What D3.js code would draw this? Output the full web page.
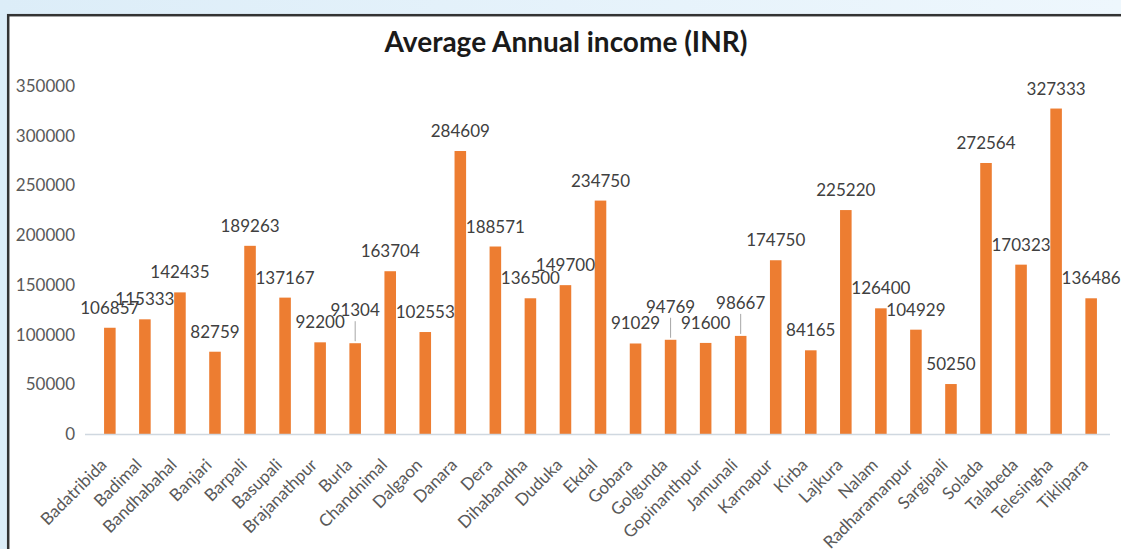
<!DOCTYPE html>
<html>
<head>
<meta charset="utf-8">
<script src="https://cdn.jsdelivr.net/npm/d3@7/dist/d3.min.js"></script>
<style>
  html, body { margin: 0; padding: 0; }
  body { width: 1121px; height: 549px; overflow: hidden; }
</style>
</head>
<body>
<svg id="chart" width="1121" height="549"></svg>
<script>
// Villages and their average annual income (INR)
const villages = ["Badatribida", "Badimal", "Bandhabahal", "Banjari", "Barpali", "Basupali",
  "Brajanathpur", "Burla", "Chandnimal", "Dalgaon", "Danara", "Dera", "Dihabandha", "Duduka",
  "Ekdal", "Gobara", "Golgunda", "Gopinanthpur", "Jamunali", "Karnapur", "Kirba", "Lajkura",
  "Nalam", "Radharamanpur", "Sargipali", "Solada", "Talabeda", "Telesingha", "Tiklipara"];
const income = [106857, 115333, 142435, 82759, 189263, 137167, 92200, 91304, 163704, 102553,
  284609, 188571, 136500, 149700, 234750, 91029, 94769, 91600, 98667, 174750, 84165, 225220,
  126400, 104929, 50250, 272564, 170323, 327333, 136486];
const yTicks = [0, 50000, 100000, 150000, 200000, 250000, 300000, 350000];
// Labels lifted off their bar and joined to it by a leader line
const leaderLabels = ["Burla", "Golgunda", "Jamunali"];

const W = 1121, H = 549;
const svg = d3.select("#chart");
const font = "Lato, 'Open Sans', sans-serif";

// Page backdrop
const defs = svg.append("defs");
const bg = defs.append("linearGradient").attr("id", "bg").attr("x1", 0).attr("x2", 1).attr("y1", 0).attr("y2", 0);
bg.append("stop").attr("offset", 0).attr("stop-color", "#dcedf8");
bg.append("stop").attr("offset", 1).attr("stop-color", "#eef7fd");
svg.append("rect").attr("width", W).attr("height", H).attr("fill", "url(#bg)");

// Chart frame
svg.append("rect")
  .attr("x", 8.2).attr("y", 15.2)
  .attr("width", W + 20).attr("height", H + 20)
  .attr("fill", "#ffffff").attr("stroke", "#333333").attr("stroke-width", 2.5);

// Title
svg.append("text")
  .attr("x", 566).attr("y", 52)
  .attr("text-anchor", "middle")
  .attr("font-family", font).attr("font-weight", "bold").attr("font-size", 28)
  .attr("fill", "#1a1a1a")
  .text("Average Annual income (INR)");

const x = d3.scaleBand().domain(villages).range([92.5, 1108.5]).paddingInner(0.67).paddingOuter(0.33);
const y = d3.scaleLinear().domain([0, 350000]).range([434, 86]);

// Y axis labels (no axis line, no gridlines)
const yAxis = svg.append("g").attr("transform", "translate(75,0)")
  .call(d3.axisLeft(y).tickValues(yTicks).tickSize(0).tickPadding(0).tickFormat(d3.format("d")));
yAxis.select(".domain").remove();
yAxis.selectAll("text")
  .attr("font-family", font).attr("font-size", 17).attr("fill", "#595959");

// Bars
svg.append("g").selectAll("rect")
  .data(villages)
  .join("rect")
  .attr("x", d => x(d))
  .attr("width", x.bandwidth())
  .attr("y", (d, i) => y(income[i]))
  .attr("height", (d, i) => y(0) - y(income[i]))
  .attr("fill", "#ed7d31");

// Category axis
const xAxis = svg.append("g").attr("transform", "translate(0,434)")
  .call(d3.axisBottom(x).tickSize(0).tickPadding(0));
xAxis.select(".domain")
  .attr("d", "M85,0.5H1110")
  .attr("stroke", "#d0d8e0").attr("stroke-width", 1.5);
xAxis.selectAll(".tick text")
  .attr("font-family", font).attr("font-size", 17).attr("fill", "#595959")
  .attr("text-anchor", "end")
  .attr("dy", 0).attr("y", 0)
  .attr("transform", "translate(-2,32) rotate(-45)");

// Value labels
const lift = 13;
const labels = svg.append("g");
villages.forEach((v, i) => {
  const cx = x(v) + x.bandwidth() / 2;
  const top = y(income[i]);
  const lifted = leaderLabels.includes(v);
  const base = top - 14 - (lifted ? lift : 0);
  if (lifted) {
    labels.append("line")
      .attr("x1", cx).attr("x2", cx)
      .attr("y1", base + 5).attr("y2", top - 2)
      .attr("stroke", "#a6a6a6").attr("stroke-width", 1);
  }
  labels.append("text")
    .attr("x", cx).attr("y", base)
    .attr("text-anchor", "middle")
    .attr("font-family", font).attr("font-size", 17).attr("fill", "#404040")
    .text(income[i]);
});
</script>
</body>
</html>
